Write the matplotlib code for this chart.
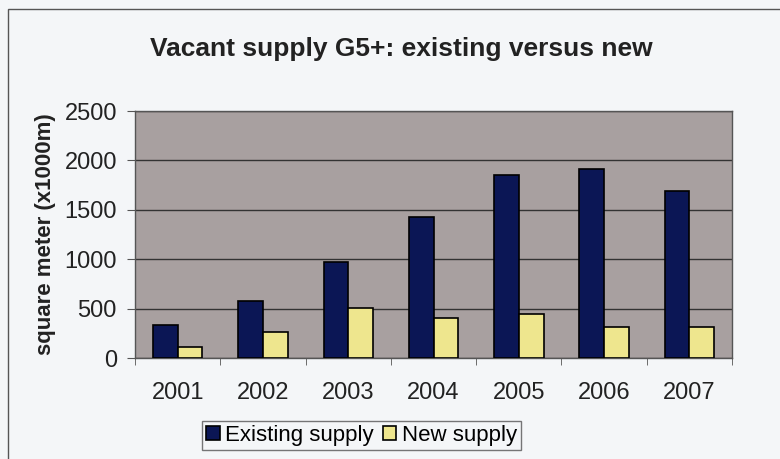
import numpy as np
import matplotlib
matplotlib.use( "Agg" )
import matplotlib.pyplot as plt
from matplotlib.patches import Rectangle

plt.rcParams['font.family'] = ['Liberation Sans', 'DejaVu Sans']

years = ["2001", "2002", "2003", "2004", "2005", "2006", "2007"]
existing = [334, 580, 975, 1424, 1852, 1913, 1693]
newsupply = [114, 266, 509, 408, 445, 311, 311]
yticks = [0, 500, 1000, 1500, 2000, 2500]

navy = "#0b1655"
pale = "#eee68e"
plotbg = "#a8a0a0"
figbg = "#f4f6f8"
textc = "#222222"

fig = plt.figure( figsize=(7.8, 4.59), dpi=100, facecolor=figbg )
ax = fig.add_axes( [0.1731, 0.22, 0.9385 - 0.1731, 0.758 - 0.22] )
ax.set_facecolor( plotbg )

# chart frame
fig.patches.append( Rectangle( (8 / 780, -0.1), 1.2, 1 - 9 / 459 + 0.1,
                               transform=fig.transFigure, fill=False,
                               edgecolor="#555555", linewidth=1.0 ) )

x = np.arange( len( years ) )
w = 0.29
ax.bar( x - w / 2, existing, w, color=navy, edgecolor="black", linewidth=1.2,
        label="Existing supply", zorder=3 )
ax.bar( x + w / 2, newsupply, w, color=pale, edgecolor="black", linewidth=1.2,
        label="New supply", zorder=3 )

ax.set_xlim( -0.5, len( years ) - 0.5 )
ax.set_ylim( 0, 2500 )
ax.set_yticks( yticks )
ax.set_yticklabels( [str( v ) for v in yticks], fontsize=17, color=textc )
ax.yaxis.grid( True, color="#333333", linewidth=1.0, zorder=1 )
ax.set_axisbelow( True )

# category labels centred, ticks between categories
ax.set_xticks( x )
ax.set_xticklabels( years, fontsize=17, color=textc )
ax.tick_params( axis="x", length=0, pad=17 )
ax.set_xticks( np.arange( -0.5, len( years ), 1.0 ), minor=True )
ax.tick_params( axis="x", which="minor", length=5, color="#555555" )
ax.tick_params( axis="y", length=6, color="#555555", pad=7 )

for s in ax.spines.values() :
    s.set_color( "#555555" )
    s.set_linewidth( 1.0 )

ax.set_ylabel( "square meter (x1000m)", fontsize=16, fontweight="bold",
               color=textc, labelpad=6 )
fig.text( 0.514, 0.893, "Vacant supply G5+: existing versus new", fontsize=19,
          fontweight="bold", color=textc, ha="center", va="center" )

leg = fig.legend( loc="center", bbox_to_anchor=(0.4635, 0.0512), ncol=2,
                  fontsize=16, frameon=True, fancybox=False,
                  handlelength=0.6, handleheight=0.6, handletextpad=0.25,
                  columnspacing=0.4, borderpad=0.2, borderaxespad=0 )
leg.get_frame().set_edgecolor( "#555555" )
leg.get_frame().set_facecolor( figbg )

fig.savefig( "out.png", dpi=100, facecolor=figbg )
